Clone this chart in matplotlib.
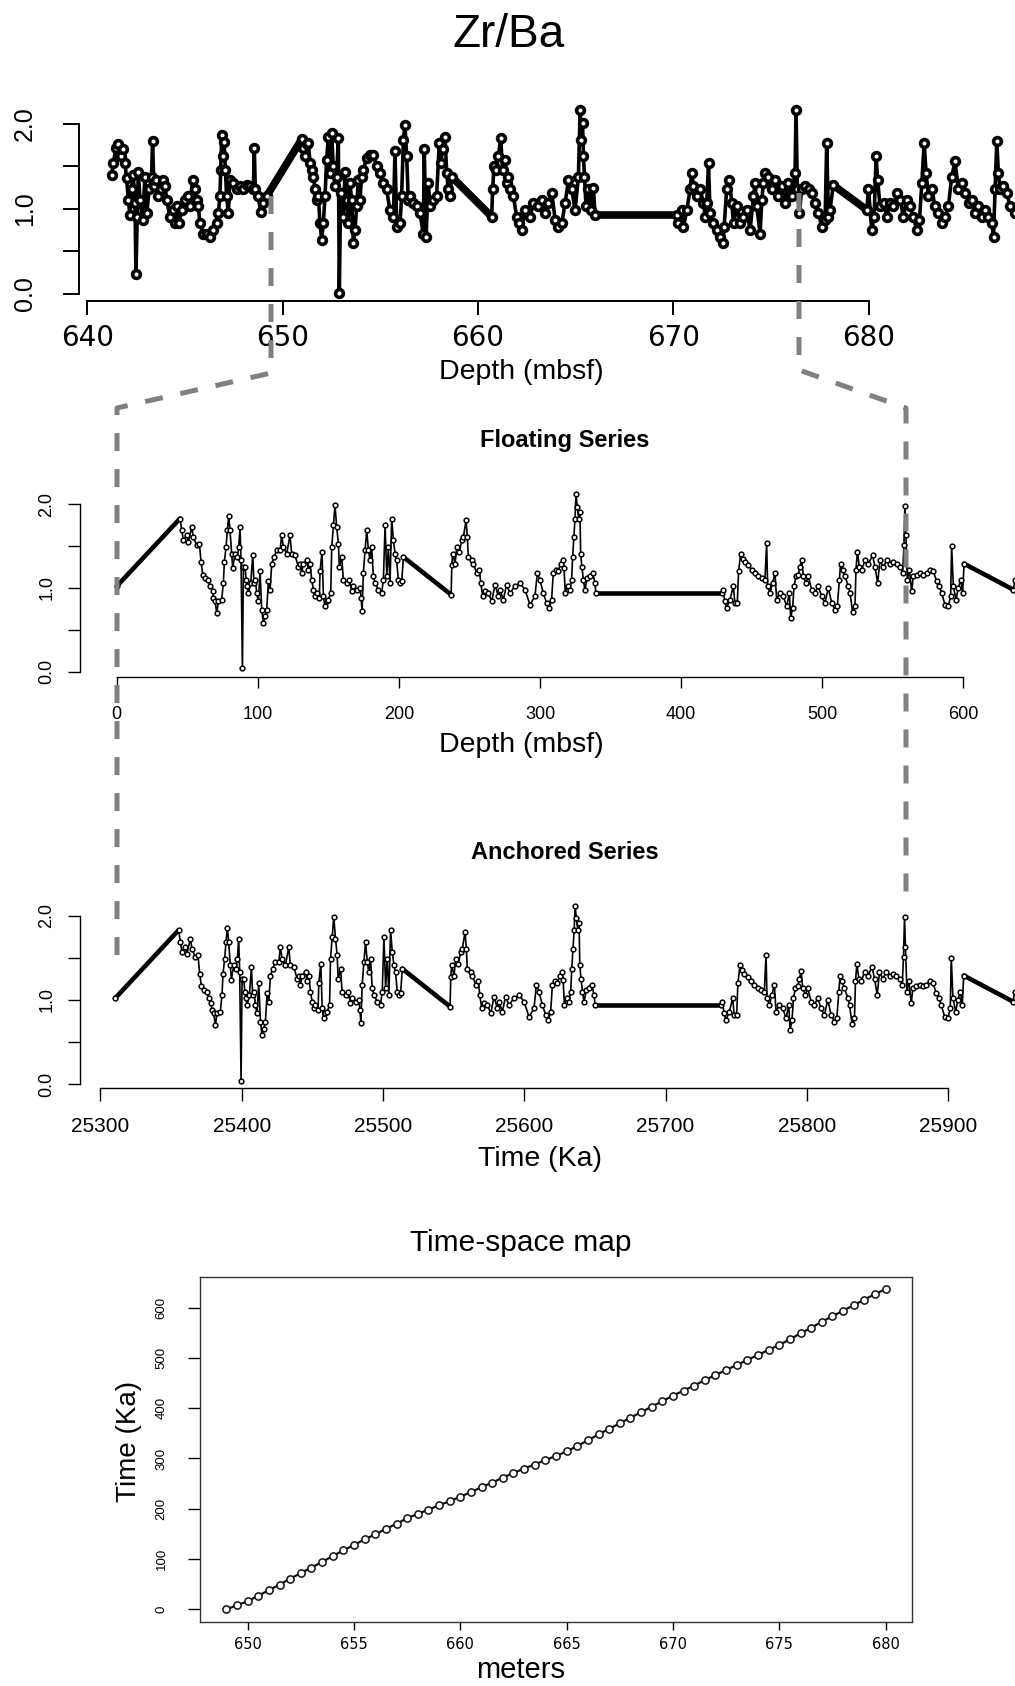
import numpy as np
import matplotlib
matplotlib.use("Agg")
import matplotlib.pyplot as plt
from matplotlib.lines import Line2D

plt.rcParams['font.family'] = ['Liberation Sans', 'DejaVu Sans']

W, H = 1015, 1686

# ---- raw Zr/Ba record against depth (top panel)
top_depth = [641.25, 641.33, 641.47, 641.59, 641.71, 641.81, 641.93, 642.01, 642.10, 642.18,
             642.27, 642.35, 642.44, 642.49, 642.56, 642.61, 642.70, 642.83, 642.95, 643.04,
             643.17, 643.29, 643.34, 643.41, 643.52, 643.63, 643.75, 643.89, 643.98, 644.06,
             644.23, 644.37, 644.49, 644.57, 644.71, 644.83, 645.00, 645.17, 645.26, 645.39,
             645.51, 645.60, 645.68, 645.77, 645.94, 646.11, 646.28, 646.45, 646.62, 646.71,
             646.79, 646.83, 646.88, 646.93, 647.00, 647.07, 647.13, 647.22, 647.30, 647.47,
             647.65, 647.82, 647.99, 648.16, 648.33, 648.50, 648.55, 648.60, 648.75, 648.87,
             649.01, 649.18, 650.97, 651.06, 651.14, 651.23, 651.31, 651.40, 651.48, 651.57,
             651.66, 651.74, 651.83, 651.91, 652.00, 652.08, 652.17, 652.25, 652.34, 652.42,
             652.51, 652.59, 652.68, 652.76, 652.85, 652.90, 652.97, 653.11, 653.19, 653.28,
             653.36, 653.45, 653.53, 653.62, 653.70, 653.79, 653.87, 653.96, 654.04, 654.13,
             654.30, 654.47, 654.64, 654.81, 654.98, 655.15, 655.32, 655.49, 655.67, 655.75,
             655.84, 656.01, 656.09, 656.18, 656.26, 656.35, 656.43, 656.52, 656.69, 656.86,
             657.03, 657.20, 657.25, 657.34, 657.46, 657.54, 657.71, 657.88, 658.02, 658.09,
             658.19, 658.31, 658.40, 658.48, 658.57, 658.65, 660.70, 660.75, 660.82, 660.92,
             661.04, 661.16, 661.26, 661.38, 661.47, 661.55, 661.64, 661.81, 661.98, 662.12,
             662.24, 662.41, 662.67, 662.84, 663.09, 663.26, 663.43, 663.60, 663.78, 663.95,
             664.12, 664.29, 664.46, 664.63, 664.80, 664.97, 665.14, 665.23, 665.28, 665.35,
             665.40, 665.45, 665.53, 665.65, 665.77, 665.91, 665.99, 670.17, 670.26, 670.43,
             670.52, 670.69, 670.86, 670.94, 671.03, 671.20, 671.37, 671.54, 671.63, 671.71,
             671.80, 671.88, 672.05, 672.22, 672.39, 672.53, 672.60, 672.73, 672.87, 672.99,
             673.08, 673.25, 673.42, 673.59, 673.76, 673.93, 674.10, 674.19, 674.27, 674.44,
             674.53, 674.61, 674.70, 674.87, 675.04, 675.21, 675.38, 675.55, 675.72, 675.89,
             676.06, 676.23, 676.28, 676.35, 676.45, 676.57, 676.74, 676.92, 677.09, 677.26,
             677.43, 677.60, 677.77, 677.85, 677.94, 678.02, 678.19, 679.90, 679.99, 680.16,
             680.28, 680.38, 680.46, 680.58, 680.76, 680.93, 681.10, 681.27, 681.44, 681.61,
             681.78, 681.95, 682.12, 682.29, 682.46, 682.60, 682.72, 682.84, 682.94, 683.06,
             683.23, 683.40, 683.57, 683.74, 683.91, 684.08, 684.25, 684.42, 684.59, 684.77,
             684.94, 685.11, 685.28, 685.45, 685.62, 685.79, 685.96, 686.13, 686.30, 686.39,
             686.47, 686.56, 686.64, 686.73, 686.90, 687.07, 687.24, 687.50]
top_zrba = [1.40, 1.54, 1.72, 1.76, 1.62, 1.70, 1.54, 1.36, 1.11, 0.93,
            1.23, 1.40, 1.07, 0.24, 0.91, 1.44, 1.11, 0.87, 1.38, 0.95,
            1.23, 1.38, 1.80, 1.27, 1.34, 1.15, 1.23, 1.34, 1.27, 1.11,
            0.91, 0.99, 0.83, 1.03, 0.83, 0.99, 1.11, 1.15, 1.03, 1.34,
            1.23, 1.11, 1.03, 0.83, 0.71, 0.71, 0.67, 0.75, 0.83, 0.95,
            1.15, 1.46, 1.87, 1.62, 1.79, 1.46, 1.15, 0.95, 1.34, 1.30,
            1.23, 1.27, 1.23, 1.28, 1.27, 1.23, 1.72, 1.23, 1.15, 0.97,
            1.07, 1.15, 1.82, 1.72, 1.62, 1.76, 1.78, 1.54, 1.46, 1.38,
            1.23, 1.11, 1.15, 0.83, 0.64, 0.83, 1.15, 1.58, 1.85, 1.42,
            1.89, 1.50, 1.27, 1.38, 1.83, 0.01, 1.19, 0.91, 1.44, 1.11,
            0.83, 1.30, 1.11, 0.60, 0.75, 1.03, 1.34, 1.11, 1.38, 1.46,
            1.60, 1.64, 1.64, 1.50, 1.42, 1.30, 1.23, 0.99, 0.91, 1.68,
            0.79, 0.83, 1.15, 1.81, 1.99, 1.62, 1.11, 1.15, 1.07, 1.03,
            0.95, 0.71, 1.70, 0.67, 1.30, 1.03, 1.11, 1.15, 1.78, 1.54,
            1.70, 1.85, 1.42, 1.23, 1.15, 1.38, 0.91, 1.23, 1.50, 1.46,
            1.62, 1.83, 1.46, 1.58, 1.30, 1.38, 1.23, 1.15, 0.91, 0.83,
            0.75, 0.99, 0.91, 1.07, 1.03, 1.11, 0.95, 1.07, 1.19, 0.87,
            0.79, 0.83, 1.07, 1.34, 1.23, 0.99, 1.38, 2.17, 1.81, 2.01,
            1.62, 1.38, 1.03, 1.23, 0.99, 1.25, 0.93, 0.93, 0.83, 0.99,
            0.79, 0.99, 1.23, 1.42, 1.27, 1.15, 1.23, 1.07, 0.91, 1.07,
            1.54, 0.95, 0.83, 0.75, 0.67, 0.60, 0.79, 1.23, 1.34, 1.07,
            0.83, 1.03, 0.83, 0.91, 0.99, 0.75, 1.15, 1.30, 1.03, 0.71,
            1.11, 1.30, 1.42, 1.38, 1.23, 1.34, 1.15, 1.27, 1.07, 1.30,
            1.15, 1.42, 2.17, 1.23, 0.95, 1.23, 1.27, 1.23, 1.19, 1.07,
            0.95, 0.79, 0.87, 1.78, 0.91, 0.99, 1.28, 0.99, 1.23, 0.75,
            0.91, 1.62, 1.34, 1.03, 1.07, 0.91, 1.07, 1.03, 1.19, 1.11,
            0.91, 1.11, 1.03, 0.91, 0.75, 0.87, 1.30, 1.78, 1.42, 1.15,
            1.23, 1.03, 0.95, 0.83, 0.91, 1.03, 1.38, 1.56, 1.23, 1.30,
            1.19, 1.07, 1.11, 0.95, 1.03, 0.91, 0.99, 0.91, 0.83, 0.67,
            1.23, 1.80, 1.42, 1.23, 1.27, 1.19, 1.03, 0.95]
# gaps in the core bridged by straight segments (start, end depth)
top_gaps = [(649.18, 650.97), (658.65, 660.70), (665.99, 670.17), (678.19, 679.90)]

# ---- floating (relative time) series, ka
float_t = [0.0, 44.9, 46.1, 47.2, 49.6, 50.8, 53.2, 54.3, 56.7, 58.6,
           59.8, 61.0, 62.6, 65.0, 66.1, 68.0, 68.5, 69.7, 70.9, 72.1,
           74.4, 75.6, 76.3, 77.5, 78.4, 79.4, 80.3, 81.5, 82.2, 83.9,
           85.5, 86.5, 87.4, 88.1, 89.1, 89.8, 91.0, 91.7, 92.6, 93.3,
           95.0, 96.4, 97.3, 98.3, 99.2, 100.4, 101.6, 102.8, 103.9, 105.1,
           106.3, 107.5, 108.7, 109.9, 111.5, 113.4, 115.8, 116.9, 118.1, 120.5,
           122.8, 124.0, 126.4, 128.8, 129.9, 131.1, 132.3, 134.7, 135.8, 137.0,
           138.2, 139.4, 140.6, 141.7, 143.6, 144.1, 145.5, 146.5, 147.6, 148.8,
           150.0, 151.7, 152.4, 153.6, 154.7, 155.9, 157.1, 157.8, 159.5, 160.6,
           163.0, 164.9, 166.5, 167.7, 170.1, 172.5, 173.2, 173.9, 174.8, 176.0,
           177.2, 178.4, 179.5, 180.7, 181.9, 183.1, 185.4, 187.8, 189.0, 190.2,
           191.4, 192.5, 193.7, 194.9, 196.1, 197.3, 198.4, 199.6, 200.8, 202.0,
           203.2, 237.0, 237.5, 238.1, 239.8, 241.0, 242.9, 244.5, 245.7, 247.6,
           248.5, 249.2, 251.6, 252.8, 255.1, 257.0, 258.0, 259.4, 261.0, 263.4,
           265.8, 268.1, 270.5, 271.6, 274.0, 276.3, 278.7, 282.2, 285.8, 289.3,
           292.9, 296.4, 298.1, 299.9, 302.3, 304.7, 306.6, 308.2, 309.4, 311.3,
           312.9, 314.6, 316.0, 317.0, 317.9, 319.6, 321.2, 322.4, 323.1, 324.0,
           324.8, 325.5, 326.4, 327.4, 328.3, 328.8, 329.7, 330.7, 331.8, 333.5,
           335.4, 337.3, 338.9, 339.6, 428.7, 429.4, 431.1, 432.2, 434.6, 437.0,
           438.1, 439.8, 440.7, 442.2, 443.6, 445.2, 447.6, 450.0, 452.3, 454.7,
           457.1, 459.4, 460.6, 461.3, 463.0, 464.8, 466.5, 467.7, 470.0, 472.4,
           474.8, 476.7, 477.6, 479.0, 480.0, 481.4, 483.0, 484.2, 485.4, 486.6,
           488.5, 490.1, 492.5, 494.8, 497.2, 499.6, 501.9, 504.3, 506.7, 509.0,
           510.7, 512.1, 513.0, 514.5, 516.1, 518.5, 519.7, 521.5, 523.2, 523.9,
           524.9, 526.3, 528.0, 530.3, 532.7, 535.7, 537.4, 539.3, 540.9, 543.3,
           545.6, 548.0, 550.4, 552.7, 555.1, 557.0, 557.9, 558.6, 559.3, 560.3,
           561.7, 563.4, 564.5, 566.9, 569.3, 571.6, 574.0, 576.4, 578.7, 581.1,
           583.0, 584.6, 587.0, 589.3, 591.0, 591.7, 592.9, 594.8, 596.4, 598.1,
           599.5, 600.5, 635.4, 636.6]
float_zrba = [1.02, 1.83, 1.69, 1.57, 1.63, 1.55, 1.73, 1.61, 1.51, 1.53,
              1.31, 1.16, 1.12, 1.10, 1.02, 0.96, 0.88, 0.84, 0.70, 0.84,
              0.86, 1.06, 1.31, 1.49, 1.69, 1.86, 1.69, 1.41, 1.24, 1.41,
              1.37, 1.49, 1.73, 1.33, 0.04, 1.25, 1.25, 1.10, 1.02, 0.94,
              1.06, 1.39, 1.06, 1.10, 0.94, 0.84, 1.20, 0.74, 0.58, 0.66,
              0.74, 1.08, 0.98, 1.29, 1.37, 1.45, 1.45, 1.63, 1.49, 1.41,
              1.63, 1.41, 1.39, 1.25, 1.29, 1.18, 1.29, 1.33, 1.22, 1.29,
              1.10, 0.98, 0.90, 0.94, 0.88, 1.20, 1.43, 0.90, 0.78, 0.84,
              0.86, 0.94, 1.49, 1.75, 1.99, 1.73, 1.53, 1.25, 1.37, 1.10,
              1.06, 1.10, 0.96, 1.02, 0.98, 1.00, 0.88, 0.72, 1.18, 1.45,
              1.69, 1.45, 1.33, 1.49, 1.14, 1.06, 0.98, 0.94, 1.10, 1.75,
              1.14, 1.49, 1.06, 1.83, 1.57, 1.41, 1.33, 1.10, 1.06, 1.08,
              1.37, 0.92, 1.27, 1.41, 1.29, 1.49, 1.43, 1.57, 1.61, 1.81,
              1.61, 1.37, 1.33, 1.29, 1.18, 1.22, 1.06, 0.90, 0.96, 0.94,
              0.84, 1.04, 0.90, 0.98, 0.86, 1.04, 0.94, 1.02, 1.06, 0.98,
              0.80, 0.90, 1.18, 1.10, 0.94, 0.82, 0.76, 0.86, 1.18, 1.22,
              1.20, 1.29, 1.33, 1.24, 0.94, 1.02, 0.98, 1.10, 1.37, 1.61,
              1.83, 2.12, 1.97, 1.83, 1.91, 1.41, 1.25, 1.10, 0.98, 1.12,
              1.14, 1.18, 1.06, 0.94, 0.94, 0.98, 0.84, 0.76, 0.86, 1.02,
              0.82, 0.82, 1.20, 1.41, 1.35, 1.31, 1.27, 1.22, 1.18, 1.14,
              1.12, 1.10, 1.54, 1.02, 0.94, 1.06, 1.18, 0.86, 0.94, 0.90,
              0.78, 0.94, 0.64, 0.76, 1.02, 1.14, 1.16, 1.25, 1.34, 1.14,
              1.06, 1.14, 0.98, 0.94, 1.02, 0.90, 0.82, 1.00, 0.82, 0.74,
              0.78, 1.10, 1.29, 1.22, 1.14, 1.02, 0.94, 0.71, 0.78, 1.22,
              1.43, 1.25, 1.22, 1.33, 1.29, 1.39, 1.25, 1.06, 1.33, 1.25,
              1.33, 1.29, 1.31, 1.29, 1.25, 1.18, 1.51, 1.98, 1.63, 1.10,
              1.22, 0.96, 1.14, 1.16, 1.18, 1.16, 1.18, 1.22, 1.20, 1.08,
              1.02, 0.94, 0.80, 0.78, 0.90, 1.50, 1.02, 0.86, 1.00, 1.10,
              0.94, 1.29, 0.98, 1.10]
float_gaps = [(0.0, 44.9), (203.2, 237.0), (339.6, 428.7), (600.5, 635.4)]
anchor_age = 25310.5  # ka, age of the floating series origin

# ---- time-space map
map_depth = [649.0, 649.5, 650.0, 650.5, 651.0, 651.5, 652.0, 652.5, 653.0, 653.5,
             654.0, 654.5, 655.0, 655.5, 656.0, 656.5, 657.0, 657.5, 658.0, 658.5,
             659.0, 659.5, 660.0, 660.5, 661.0, 661.5, 662.0, 662.5, 663.0, 663.5,
             664.0, 664.5, 665.0, 665.5, 666.0, 666.5, 667.0, 667.5, 668.0, 668.5,
             669.0, 669.5, 670.0, 670.5, 671.0, 671.5, 672.0, 672.5, 673.0, 673.5,
             674.0, 674.5, 675.0, 675.5, 676.0, 676.5, 677.0, 677.5, 678.0, 678.5,
             679.0, 679.5, 680.0]
map_time = [0, 8, 16, 27, 38, 49, 61, 72, 83, 94,
            106, 117, 128, 139, 149, 160, 170, 181, 190, 198,
            207, 215, 224, 233, 243, 252, 262, 271, 280, 288,
            297, 305, 314, 325, 336, 348, 359, 370, 381, 392,
            403, 414, 425, 435, 445, 456, 466, 476, 486, 496,
            506, 516, 526, 537, 549, 560, 572, 583, 594, 605,
            616, 627, 637]

fig = plt.figure(figsize=(W / 100, H / 100), dpi=100)


def px_axes(left, top, right, bottom):
    return fig.add_axes([left / W, 1 - bottom / H, (right - left) / W, (bottom - top) / H])


def r_style(ax, xb, yb, lw):
    ax.patch.set_alpha(0)
    for s in ['top', 'right']:
        ax.spines[s].set_visible(False)
    ax.spines['left'].set_bounds(*yb)
    ax.spines['bottom'].set_bounds(*xb)
    ax.spines['left'].set_linewidth(lw)
    ax.spines['bottom'].set_linewidth(lw)


def plot_series(ax, x, y, gaps, ms, mew, lw, glw):
    for a, b in gaps:
        i, j = x.index(a), x.index(b)
        ax.plot([x[i], x[j]], [y[i], y[j]], color='black', lw=glw, solid_capstyle='round')
    ax.plot(x, y, color='black', lw=lw, marker='o', ms=ms, mfc='white', mec='black', mew=mew)


zr_ticks = [0, 0.5, 1, 1.5, 2]
zr_labels = ['0.0', '', '1.0', '', '2.0']

# top panel: depth
ax1 = px_axes(79, 95, 1015, 301)
plot_series(ax1, top_depth, top_zrba, top_gaps, 5.6, 2.6, 2.6, 5.5)
ax1.set_xlim(639.575, 687.49)
ax1.set_ylim(-0.0824, 2.341)
r_style(ax1, (640, 680), (0, 2), 1.4)
ax1.set_xticks([640, 650, 660, 670, 680])
ax1.set_xticklabels(['640', '650', '660', '670', '680'], family='DejaVu Sans', fontsize=20)
ax1.set_yticks(zr_ticks)
ax1.set_yticklabels(zr_labels, rotation=90, va='center', fontsize=18)
ax1.tick_params(axis='x', length=10, width=1.4, pad=6.5)
ax1.tick_params(axis='y', length=11.3, width=1.4, pad=19)
fig.text(521 / W, 1 - 372 / H, 'Depth (mbsf)', ha='center', va='center', fontsize=20.5)

# floating series
ax2 = px_axes(80, 480, 1015, 677.3)
plot_series(ax2, float_t, float_zrba, float_gaps, 3.4, 1.1, 1.2, 3.3)
ax2.set_xlim(-26.0, 636.6)
ax2.set_ylim(-0.067, 2.290)
r_style(ax2, (0, 600), (0, 2), 1.0)
ax2.set_xticks([0, 100, 200, 300, 400, 500, 600])
ax2.set_xticklabels(['0', '100', '200', '300', '400', '500', '600'], fontsize=13)
ax2.set_yticks(zr_ticks)
ax2.set_yticklabels(zr_labels, rotation=90, va='center', fontsize=13)
ax2.tick_params(axis='x', length=8, width=1.0, pad=12.5)
ax2.tick_params(axis='y', length=8.4, width=1.0, pad=9.4)
fig.text(564.5 / W, 1 - 440.7 / H, 'Floating Series', ha='center', va='center',
         fontsize=17, fontweight='bold')
fig.text(521 / W, 1 - 745 / H, 'Depth (mbsf)', ha='center', va='center', fontsize=20.5)

# anchored series
anch_t = [t + anchor_age for t in float_t]
anch_gaps = [(a + anchor_age, b + anchor_age) for a, b in float_gaps]
ax3 = px_axes(80, 890, 1015, 1088.3)
plot_series(ax3, anch_t, float_zrba, anch_gaps, 3.4, 1.1, 1.2, 3.3)
ax3.set_xlim(25285.6, 25947.3)
ax3.set_ylim(-0.051, 2.307)
r_style(ax3, (25300, 25900), (0, 2), 1.0)
ax3.set_xticks([25300, 25400, 25500, 25600, 25700, 25800, 25900])
ax3.set_xticklabels(['25300', '25400', '25500', '25600', '25700', '25800', '25900'], fontsize=15)
ax3.set_yticks(zr_ticks)
ax3.set_yticklabels(zr_labels, rotation=90, va='center', fontsize=13)
ax3.tick_params(axis='x', length=9.4, width=1.0, pad=11)
ax3.tick_params(axis='y', length=8.4, width=1.0, pad=9.4)
fig.text(564.5 / W, 1 - 852.7 / H, 'Anchored Series', ha='center', va='center',
         fontsize=17, fontweight='bold')
fig.text(540 / W, 1 - 1159 / H, 'Time (Ka)', ha='center', va='center', fontsize=20.5)

# time-space map
ax4 = px_axes(200, 1276.7, 912, 1622.3)
ax4.plot(map_depth, map_time, color='#111111', lw=1.6, marker='o', ms=5.2, mfc='white',
         mec='#111111', mew=1.1)
ax4.set_xlim(647.76, 681.24)
ax4.set_ylim(-25.9, 661.6)
for s in ax4.spines.values():
    s.set_linewidth(1.0)
    s.set_color('#333333')
ax4.set_xticks([650, 655, 660, 665, 670, 675, 680])
ax4.set_xticklabels(['650', '655', '660', '665', '670', '675', '680'],
                    family='DejaVu Sans', fontsize=10.5)
ax4.set_yticks([0, 100, 200, 300, 400, 500, 600])
ax4.set_yticklabels(['0', '100', '200', '300', '400', '500', '600'],
                    rotation=90, va='center', fontsize=9.5)
ax4.tick_params(axis='x', length=5.5, width=1.0, pad=5)
ax4.tick_params(axis='y', length=8.4, width=1.0, pad=15)
fig.text(521 / W, 1 - 1243 / H, 'Time-space map', ha='center', va='center', fontsize=21.5)
fig.text(521 / W, 1 - 1669.8 / H, 'meters', ha='center', va='center', fontsize=21)
fig.text(129 / W, 1 - 1441.7 / H, 'Time (Ka)', ha='center', va='center', rotation=90,
         fontsize=20)

# main title
fig.text(509 / W, 1 - 46.7 / H, 'Zr/Ba', ha='center', va='baseline', fontsize=33)

# grey dashed tie lines linking the panels (pixel coordinates of the figure)
for xs, ys in [([271, 271, 117, 117], [196, 373, 408, 957]),
               ([799, 799, 906, 906], [193, 370, 408, 898])]:
    fig.add_artist(Line2D([x / W for x in xs], [1 - y / H for y in ys],
                          transform=fig.transFigure, color='#808080', lw=3.6,
                          linestyle=(0, (3.6, 3.6)), zorder=5))

fig.savefig('out.png', dpi=100)
